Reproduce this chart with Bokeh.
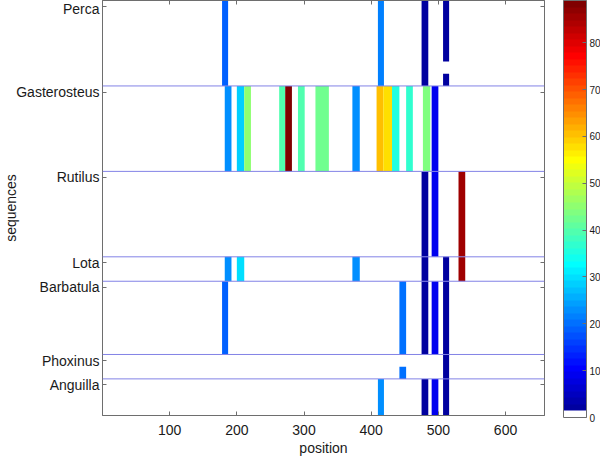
import numpy as np
from bokeh.plotting import figure
from bokeh.models import (Range1d, FixedTicker, LinearAxis, Span, ColorBar,
                          LinearColorMapper, ColumnDataSource)
from bokeh.transform import transform
from bokeh.layouts import row
from bokeh.embed import file_html
from bokeh.resources import INLINE

# ---------------- data ----------------
sequences = ["Perca", "Gasterosteus", "Rutilus", "Lota", "Barbatula", "Phoxinus", "Anguilla"]
rows_per_sequence = [7, 7, 7, 2, 6, 2, 3]

# one entry per coloured segment: sequence index, first/last sub-row (1-based),
# start/end position, value
seg_sequence = [0, 0, 0, 0, 0,
                1, 1, 1, 1, 1, 1, 1, 1, 1, 1, 1, 1, 1, 1,
                2, 2, 2,
                3, 3, 3, 3, 3, 3,
                4, 4, 4, 4, 4,
                5, 5,
                6, 6, 6, 6]
seg_first_row = [1, 1, 1, 1, 7,
                 1, 1, 1, 1, 1, 1, 1, 1, 1, 1, 1, 1, 1, 1,
                 1, 1, 1,
                 1, 1, 1, 1, 1, 1,
                 1, 1, 1, 1, 1,
                 1, 2,
                 1, 1, 1, 1]
seg_last_row = [7, 7, 7, 5, 7,
                7, 7, 7, 7, 7, 7, 7, 7, 7, 7, 7, 7, 7, 7,
                7, 7, 7,
                2, 2, 2, 2, 2, 2,
                6, 6, 6, 6, 6,
                2, 2,
                3, 3, 3, 3]
seg_start = [178, 410, 475, 507, 507,
             182, 200, 211, 263, 272, 291, 317, 372, 408, 418, 431, 452, 477, 490,
             475, 490, 530,
             182, 200, 372, 475, 507, 530,
             178, 442, 475, 490, 507,
             507, 442,
             410, 475, 490, 507]
seg_end = [187, 419, 485, 516, 516,
           192, 211, 221, 272, 282, 301, 337, 383, 418, 431, 442, 462, 488, 500,
           485, 500, 540,
           192, 211, 383, 485, 516, 540,
           187, 452, 485, 500, 516,
           516, 452,
           419, 485, 500, 516]
seg_value = [18.8, 21.5, 2, 2, 2,
             23, 28, 45, 39.6, 89, 39.6, 42.4, 23, 60.5, 57.7, 35.5, 37, 43.8, 9,
             2, 9, 85.5,
             23, 29.5, 23, 2, 2, 85.5,
             18.8, 19.8, 2, 9, 2,
             2, 19.8,
             22.5, 2, 9, 2]

x_ticks = [100, 200, 300, 400, 500, 600]
colorbar_ticks = [0, 10, 20, 30, 40, 50, 60, 70, 80]
value_max = 89
position_max = 658

# ---------------- styling ----------------
FONT = "Liberation Sans"
AX = "#6e6e6e"
TXT = "#1a1a1a"
SEP = "#8282e6"


def jet(n):
    out = []
    for k in range(n):
        t = (k + 1) / n
        r = min(max(1.5 - abs(4 * t - 3), 0), 1)
        g = min(max(1.5 - abs(4 * t - 2), 0), 1)
        b = min(max(1.5 - abs(4 * t - 1), 0), 1)
        out.append("#%02x%02x%02x" % (round(r * 255), round(g * 255), round(b * 255)))
    return out


palette = jet(64)
palette[0] = "#ffffff"
mapper = LinearColorMapper(palette=palette, low=0, high=value_max)

offsets = np.concatenate([[0], np.cumsum(rows_per_sequence)[:-1]])
total_rows = int(np.sum(rows_per_sequence))
tick_rows = [int(o + 1) for o in offsets]

tops = [offsets[s] + r1 - 0.5 for s, r1 in zip(seg_sequence, seg_first_row)]
bottoms = [offsets[s] + r2 + 0.5 for s, r2 in zip(seg_sequence, seg_last_row)]
src = ColumnDataSource(dict(left=seg_start, right=seg_end, top=tops, bottom=bottoms, value=seg_value))

p = figure(width=563, height=458, x_range=Range1d(0, position_max),
           y_range=Range1d(total_rows + 0.5, 0.5),
           output_backend="svg", toolbar_location=None,
           min_border_left=102, min_border_right=19, min_border_top=0, min_border_bottom=41)
p.background_fill_color = "white"
p.border_fill_color = "white"
p.outline_line_color = AX
p.xgrid.visible = False
p.ygrid.visible = False

p.quad(left="left", right="right", top="top", bottom="bottom", source=src,
       fill_color=transform("value", mapper), line_color=None)

for o in offsets[1:]:
    p.add_layout(Span(location=float(o + 0.5), dimension="width", line_color=SEP, line_width=1))


def style_axis(ax, ticks, labels=True):
    ax.axis_line_color = AX
    ax.major_tick_line_color = AX
    ax.major_tick_in = 4
    ax.major_tick_out = 0
    ax.minor_tick_in = 0
    ax.minor_tick_out = 0
    ax.minor_tick_line_color = None
    ax.major_label_text_font = FONT
    ax.major_label_text_color = TXT
    ax.major_label_text_font_size = "14px"
    if not labels:
        ax.major_label_overrides = {t: "" for t in ticks}
        ax.major_label_text_font_size = "1px"
        ax.major_label_standoff = 0


xa = p.xaxis[0]
xa.ticker = FixedTicker(ticks=x_ticks)
style_axis(xa, x_ticks)
xa.major_label_standoff = 9
xa.axis_label = "position"
xa.axis_label_text_font = FONT
xa.axis_label_text_font_size = "14px"
xa.axis_label_text_font_style = "normal"
xa.axis_label_text_color = TXT
xa.axis_label_standoff = 2

ya = p.yaxis[0]
ya.ticker = FixedTicker(ticks=tick_rows)
style_axis(ya, tick_rows)
ya.major_label_overrides = {t: name for t, name in zip(tick_rows, sequences)}
ya.major_label_standoff = 3
ya.axis_label = "sequences"
ya.axis_label_text_font = FONT
ya.axis_label_text_font_size = "14px"
ya.axis_label_text_font_style = "normal"
ya.axis_label_text_color = TXT
ya.axis_label_standoff = -6

top_ax = LinearAxis(ticker=FixedTicker(ticks=x_ticks))
style_axis(top_ax, x_ticks, labels=False)
p.add_layout(top_ax, "above")
right_ax = LinearAxis(ticker=FixedTicker(ticks=tick_rows))
style_axis(right_ax, tick_rows, labels=False)
p.add_layout(right_ax, "right")

# ---------------- colour bar ----------------
cb = figure(width=37, height=458, x_range=Range1d(0, 1), y_range=Range1d(0, 1),
            output_backend="svg", toolbar_location=None,
            x_axis_location=None, y_axis_location=None,
            min_border_left=0, min_border_right=0, min_border_top=0, min_border_bottom=41)
cb.xgrid.visible = False
cb.ygrid.visible = False
cb.outline_line_color = None
cb.background_fill_color = "white"
cb.border_fill_color = "white"

color_bar = ColorBar(color_mapper=mapper, ticker=FixedTicker(ticks=colorbar_ticks),
                     location="top_left", orientation="vertical",
                     width=23, height=417, margin=0, padding=0,
                     bar_line_color=AX, border_line_color=None,
                     background_fill_color="white",
                     major_tick_in=4, major_tick_out=0, major_tick_line_color=AX,
                     minor_tick_line_color=None,
                     label_standoff=3,
                     major_label_text_font=FONT, major_label_text_font_size="10px",
                     major_label_text_color=TXT)
cb.add_layout(color_bar, "center")

layout = row(p, cb)
open("out.html", "w").write(file_html(layout, INLINE))
